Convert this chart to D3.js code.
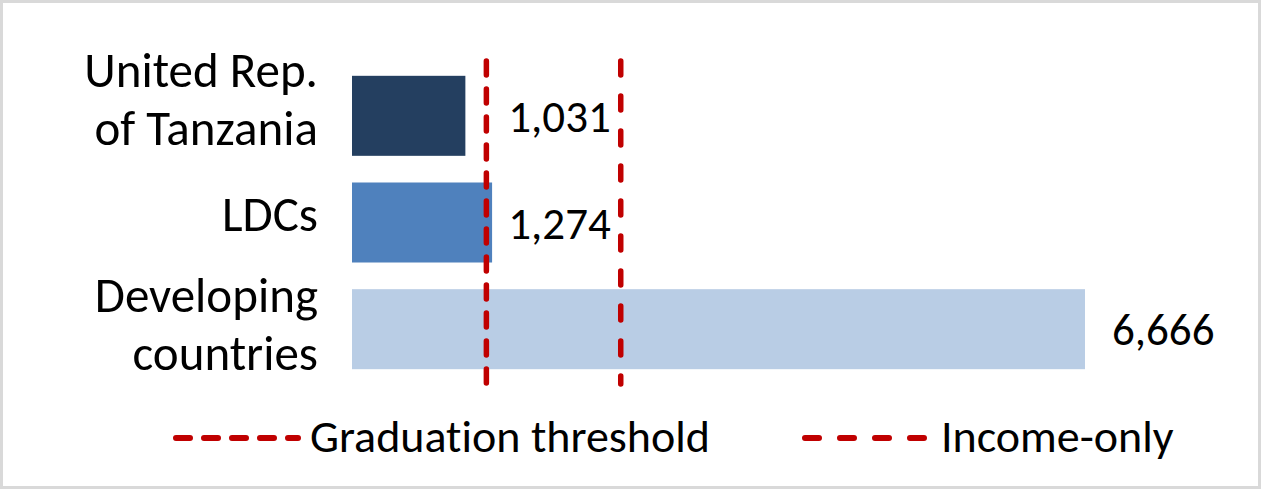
<!DOCTYPE html>
<html>
<head>
<meta charset="utf-8">
<script src="https://cdn.jsdelivr.net/npm/d3@7"></script>
<style>
  body { margin: 0; background: #fff; }
  text { font-family: Carlito, Calibri, "Open Sans", sans-serif; fill: #000; font-variant-ligatures: none; }
</style>
</head>
<body>
<svg id="chart" width="1261" height="489"></svg>
<script>
// ---------------------------//
//            DATA            //
// ---------------------------//

var categories = ["United Rep. of Tanzania", "LDCs", "Developing countries"];
var labelLines = [["United Rep.", "of Tanzania"], ["LDCs"], ["Developing", "countries"]];
var values = [1031, 1274, 6666];
var barColors = ["#243f60", "#4f81bd", "#b9cde5"];

var thresholdNames = ["Graduation threshold", "Income-only"];
var thresholdValues = [1222, 2444];
var thresholdDash = ["14,14", "14,21"];

// ---------------------------//
//         DIMENSIONS         //
// ---------------------------//

var width = 1261, height = 489;
var plot = { left: 352, right: 1085, top: 58, bottom: 387 };
var catFont = 49, valFont = 45, legendFont = 46;
var lineGap = 58;
// first-baseline offset from the band centre, per label block
var catShift = [-29, 8, -17];

var svg = d3.select("#chart");

// frame
svg.append("rect")
    .attr("x", 1.5).attr("y", 1.5)
    .attr("width", width - 3).attr("height", height - 3)
    .attr("fill", "#fff")
    .attr("stroke", "#d9d9d9")
    .attr("stroke-width", 3);

// ---------------------------//
//       AXIS  AND SCALE      //
// ---------------------------//

var x = d3.scaleLinear()
    .domain([0, d3.max(values)])
    .range([plot.left, plot.right]);

var y = d3.scaleBand()
    .domain(categories)
    .range([plot.top, plot.bottom])
    .paddingInner(0.25)
    .paddingOuter(0.167);

// ---------------------------//
//           DRAWING          //
// ---------------------------//

svg.selectAll(".bar")
    .data(categories)
    .enter().append("rect")
    .attr("class", "bar")
    .attr("x", x(0))
    .attr("y", d => y(d))
    .attr("width", (d, i) => x(values[i]) - x(0))
    .attr("height", y.bandwidth())
    .attr("fill", (d, i) => barColors[i]);

// category labels
var cat = svg.selectAll(".cat")
    .data(categories)
    .enter().append("text")
    .attr("class", "cat")
    .attr("text-anchor", "end")
    .style("font-size", catFont + "px");

cat.each(function(d, i) {
    var c = y(d) + y.bandwidth() / 2;
    d3.select(this).selectAll("tspan")
        .data(labelLines[i])
        .enter().append("tspan")
        .attr("x", plot.left - 34)
        .attr("y", (l, j) => c + catShift[i] + j * lineGap)
        .text(l => l);
});

// threshold lines
svg.selectAll(".thr")
    .data(thresholdValues)
    .enter().append("line")
    .attr("class", "thr")
    .attr("x1", d => x(d)).attr("x2", d => x(d))
    .attr("y1", plot.top + 3).attr("y2", plot.bottom - 3)
    .attr("stroke", "#c00000")
    .attr("stroke-width", 5.5)
    .attr("stroke-linecap", "round")
    .attr("stroke-dasharray", (d, i) => thresholdDash[i]);

// value labels: between the two thresholds if the bar is short, else past the bar
var fmt = d3.format(",");
svg.selectAll(".val")
    .data(categories)
    .enter().append("text")
    .attr("class", "val")
    .attr("x", (d, i) => values[i] < thresholdValues[1]
        ? (x(thresholdValues[0]) + x(thresholdValues[1])) / 2 + 6
        : x(values[i]) + 27)
    .attr("y", d => y(d) + y.bandwidth() / 2 + 16)
    .attr("text-anchor", (d, i) => values[i] < thresholdValues[1] ? "middle" : "start")
    .style("font-size", valFont + "px")
    .text((d, i) => fmt(values[i]));

// ---------------------------//
//           LEGEND           //
// ---------------------------//

var legendX = [176, 805];
var legend = svg.selectAll(".legend")
    .data(thresholdNames)
    .enter().append("g")
    .attr("class", "legend")
    .attr("transform", (d, i) => "translate(" + legendX[i] + ",438)");

legend.append("line")
    .attr("x1", 0).attr("x2", (d, i) => i === 0 ? 122 : 120)
    .attr("stroke", "#c00000")
    .attr("stroke-width", 6)
    .attr("stroke-linecap", "round")
    .attr("stroke-dasharray", (d, i) => thresholdDash[i]);

legend.append("text")
    .attr("x", (d, i) => i === 0 ? 134 : 136)
    .attr("y", 14)
    .style("font-size", legendFont + "px")
    .text(d => d);
</script>
</body>
</html>
